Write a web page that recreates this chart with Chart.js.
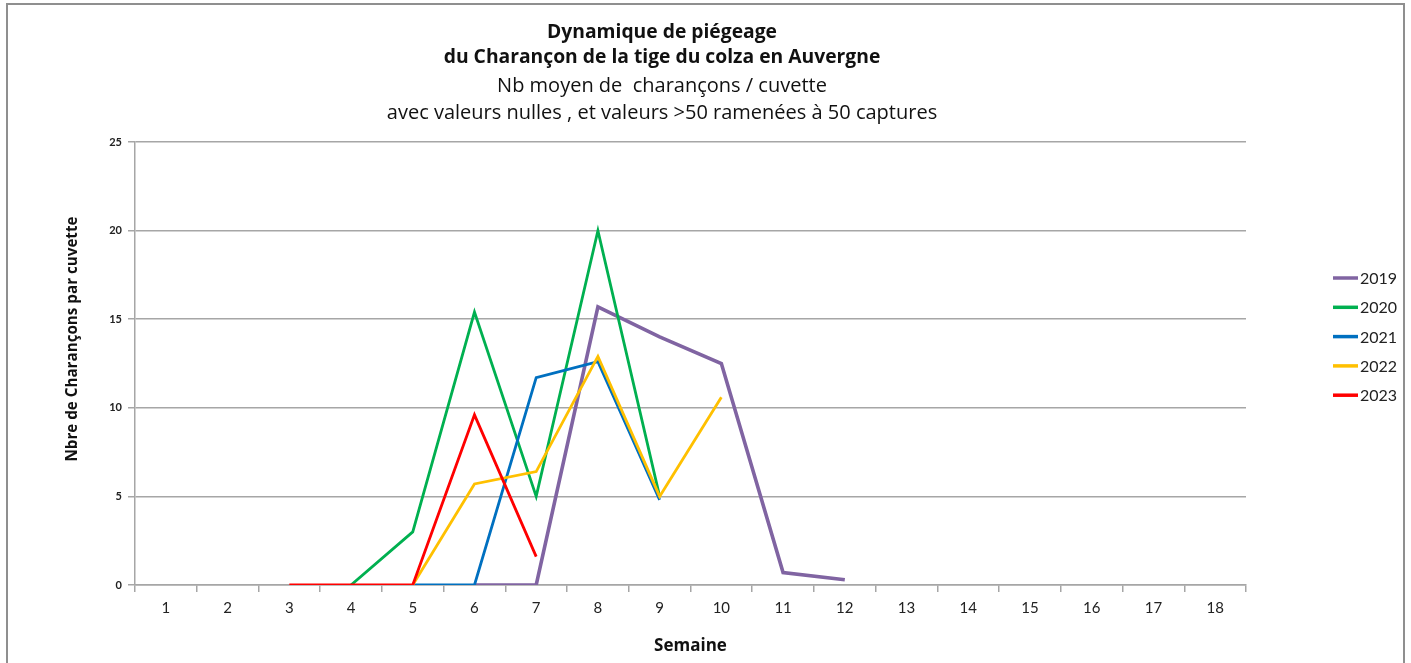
<!DOCTYPE html>
<html lang="fr">
<head>
<meta charset="utf-8">
<title>Dynamique de piégeage</title>
<script src="https://cdn.jsdelivr.net/npm/chart.js@4.4.1/dist/chart.umd.min.js"></script>
<style>
  html, body { margin: 0; padding: 0; background: #fff; }
  canvas { position: absolute; left: 0; top: 0; }
  #cadre { position: absolute; left: 6px; top: 3px; width: 1395px; height: 700px; border: 2px solid #8f8f8f; pointer-events: none; }
</style>
</head>
<body>
<canvas id="piegeage" width="1411" height="663"></canvas>
<div id="cadre"></div>
<script>
/************** données ****************/
const semaines = ['1', '2', '3', '4', '5', '6', '7', '8', '9', '10', '11', '12', '13', '14', '15', '16', '17', '18'];
const annees = ['2019', '2020', '2021', '2022', '2023'];
const couleurs = ['#8064A2', '#00B050', '#0070C0', '#FFC000', '#FF0000'];

const v2019 = [null, null, null, null, null, 0, 0, 15.7, 14.0, 12.5, 0.7, 0.3, null, null, null, null, null, null];
const v2020 = [null, null, null, 0, 3.0, 15.4, 5.0, 20.0, 5.0, null, null, null, null, null, null, null, null, null];
const v2021 = [null, null, null, null, 0, 0, 11.7, 12.6, 4.8, null, null, null, null, null, null, null, null, null];
const v2022 = [null, null, null, null, 0, 5.7, 6.4, 12.9, 5.0, 10.6, null, null, null, null, null, null, null, null];
const v2023 = [null, null, 0, 0, 0, 9.6, 1.6, null, null, null, null, null, null, null, null, null, null, null];

const yMin = 0;
const yMax = 25;
const yPas = 5;

const titres = [
    'Dynamique de piégeage',
    'du Charançon de la tige du colza en Auvergne',
    'Nb moyen de  charançons / cuvette',
    'avec valeurs nulles , et valeurs >50 ramenées à 50 captures'
];
const titreY = 'Nbre de Charançons par cuvette';
const titreX = 'Semaine';

/************** titres et légende ****************/
const habillage = {
    id: 'habillage',
    afterDraw(chart) {
        const ctx = chart.ctx;
        ctx.save();
        ctx.fillStyle = '#111';
        ctx.textAlign = 'center';
        ctx.textBaseline = 'middle';

        const lignesY = [33, 58, 86, 113];
        titres.forEach((t, i) => {
            ctx.font = (i < 2 ? 'bold 19.3px' : '20px') + ' "Open Sans"';
            ctx.fillText(t, 662, lignesY[i]);
        });

        // titre de l'axe vertical
        ctx.save();
        ctx.translate(73, 339);
        ctx.rotate(-Math.PI / 2);
        ctx.font = 'bold 15.2px "Open Sans"';
        ctx.fillText(titreY, 0, 0);
        ctx.restore();

        // légende
        ctx.textAlign = 'left';
        ctx.font = '16px Lato';
        chart.data.datasets.forEach((ds, i) => {
            const y = 278 + i * 29.3;
            ctx.strokeStyle = ds.borderColor;
            ctx.lineWidth = 3.5;
            ctx.beginPath();
            ctx.moveTo(1333, y);
            ctx.lineTo(1358, y);
            ctx.stroke();
            ctx.fillStyle = '#222';
            ctx.fillText(ds.label, 1360, y + 1);
        });
        ctx.restore();
    }
};

/************** graphique ****************/
Chart.defaults.font.family = 'Lato';
Chart.defaults.color = '#222';

const series = [v2019, v2020, v2021, v2022, v2023];

const data = {
    labels: semaines,
    datasets: series.map((s, i) => ({
        label: annees[i],
        data: s,
        borderColor: couleurs[i],
        backgroundColor: couleurs[i],
        borderWidth: i === 0 ? 3.6 : 2.8,
        pointRadius: 0,
        tension: 0,
        spanGaps: false,
        order: series.length - i
    }))
};

const config = {
    type: 'line',
    data: data,
    options: {
        responsive: false,
        animation: false,
        layout: {
            padding: { top: 142, right: 165, bottom: 0, left: 0 }
        },
        plugins: {
            legend: { display: false },
            title: { display: false },
            tooltip: { enabled: false }
        },
        scales: {
            x: {
                offset: true,
                grid: {
                    offset: true,
                    drawOnChartArea: false,
                    drawTicks: true,
                    tickLength: 7,
                    color: '#a6a6a6',
                    lineWidth: 1.5
                },
                border: { color: '#a6a6a6', width: 1.5 },
                ticks: {
                    padding: 7,
                    font: { size: 15 },
                    color: '#222',
                    maxRotation: 0,
                    autoSkip: false
                },
                title: {
                    display: true,
                    text: titreX,
                    font: { family: '"Open Sans"', size: 17, weight: 'bold' },
                    color: '#111',
                    padding: { top: 0, bottom: 7 }
                },
                afterFit: (s) => { s.height = 78; }
            },
            y: {
                min: yMin,
                max: yMax,
                grid: {
                    color: '#a6a6a6',
                    lineWidth: 1.5,
                    tickLength: 7
                },
                border: { color: '#a6a6a6', width: 1.5 },
                ticks: {
                    stepSize: yPas,
                    padding: 6,
                    font: { size: 11, weight: 'bold' },
                    color: '#222'
                },
                afterFit: (s) => { s.width = 135; }
            }
        }
    },
    plugins: [habillage]
};

const graphique = new Chart(document.getElementById('piegeage'), config);
</script>
</body>
</html>
